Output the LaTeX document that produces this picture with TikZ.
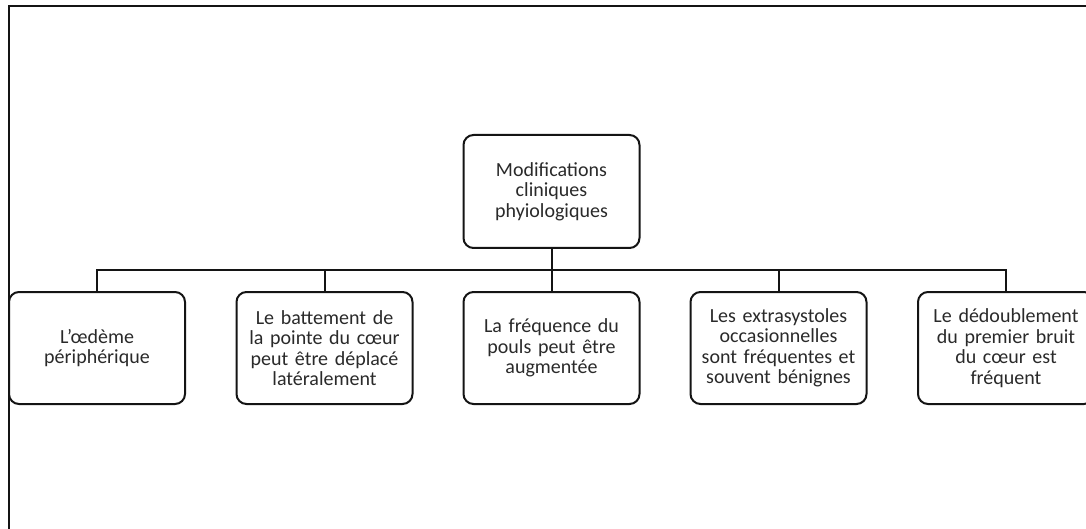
\documentclass[tikz,border=0pt]{standalone}
\usepackage{fontspec}
\setmainfont{Carlito}
\definecolor{txt}{HTML}{2A2A2A}
\definecolor{ln}{HTML}{141414}
\tikzset{
  card/.style={draw=ln, line width=2pt, rounded corners=10pt, fill=white,
    minimum width=175pt, minimum height=112pt, inner sep=2pt,
    text width=172pt, align=center, text=txt,
    font=\fontsize{20}{20.5}\selectfont},
  link/.style={draw=ln, line width=2pt}
}
\begin{document}
\begin{tikzpicture}[x=1pt,y=-1pt]
\useasboundingbox (0,0) rectangle (1086,529);
\clip (0,0) rectangle (1086,529);
\fill[white] (0,0) rectangle (1086,529);
% outer frame
\draw[line width=2.2pt, draw=ln] (8.7,540) -- (8.7,5.7) -- (1090,5.7);
\coordinate (bar) at (551.5,270);
\node[card, minimum height=113pt] (root) at (551.5,191.5) {Modifications\\cliniques\\phyiologiques};
\node[card] (c1) at (97,348) {L\symbol{39}œdème\\périphérique};
\node[card] (c2) at (324.5,348) {Le battement de\\la pointe du cœur\\peut être déplacé\\latéralement};
\node[card] (c3) at (551.5,348) {La fréquence du\\pouls peut être\\augmentée};
\node[card] (c4) at (778.5,348) {Les extrasystoles\\occasionnelles\\sont fréquentes et\\souvent bénignes};
\node[card] (c5) at (1006,348) {Le dédoublement\\du premier bruit\\du cœur est\\fréquent};
\draw[link] (root.south) -- (c3.north);
\draw[link] (c1.north) -- (c1.north |- bar) -- (c5.north |- bar) -- (c5.north);
\draw[link] (c2.north) -- (c2.north |- bar);
\draw[link] (c4.north) -- (c4.north |- bar);
\end{tikzpicture}
\end{document}
